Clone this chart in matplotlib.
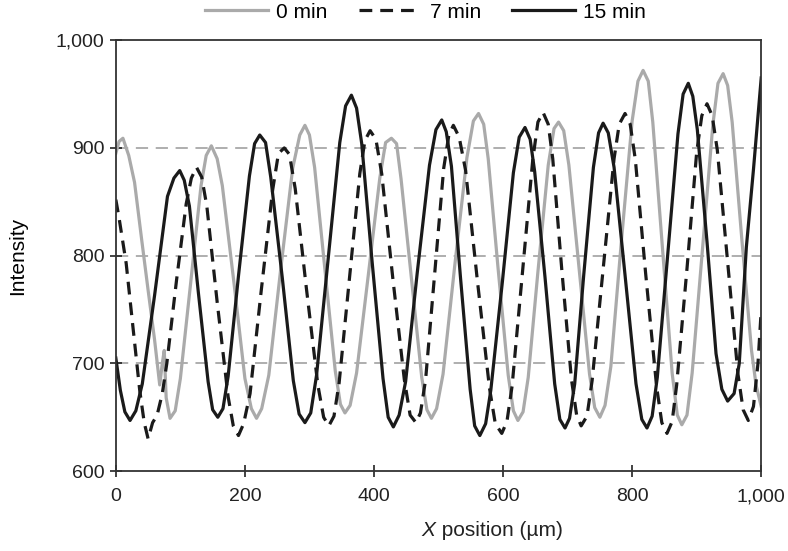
import matplotlib.pyplot as plt

plt.rcParams['font.family'] = ['Liberation Sans', 'DejaVu Sans']

# 0 min (gray)
x0 = [0, 5, 11, 20, 29, 40, 50, 60, 68, 72, 75, 78, 84, 92, 100, 116, 132, 140, 148,
      157, 165, 183, 200, 210, 218, 226, 237, 255, 274, 285, 293, 300, 308, 324, 340,
      348, 355, 363, 373, 391, 409, 418, 427, 435, 442, 458, 474, 482, 489, 497, 507,
      525, 544, 554, 562, 570, 577, 592, 608, 616, 623, 631, 639, 654, 670, 679, 686,
      694, 702, 718, 734, 742, 750, 758, 767, 783, 800, 809, 817, 825, 832, 847, 862,
      870, 877, 885, 893, 909, 925, 933, 941, 948, 955, 970, 985, 992, 1000]
y0 = [895, 906, 909, 893, 868, 815, 768, 722, 680, 700, 712, 668, 649, 656, 686, 775,
      865, 893, 902, 890, 865, 775, 686, 658, 649, 658, 689, 785, 881, 912, 921, 912,
      882, 787, 693, 662, 654, 661, 691, 781, 872, 905, 909, 904, 871, 779, 687, 657,
      649, 658, 690, 790, 891, 925, 932, 922, 890, 790, 689, 656, 647, 655, 687, 785,
      884, 918, 924, 916, 884, 787, 690, 659, 650, 661, 697, 811, 925, 962, 972, 962,
      924, 807, 691, 652, 643, 652, 691, 806, 921, 960, 969, 958, 924, 815, 712, 680,
      660]

# 7 min (dashed)
x7 = [0, 5, 16, 27, 37, 44, 50, 57, 64, 72, 79, 94, 109, 117, 125, 133, 141, 157, 174,
      182, 190, 198, 208, 225, 243, 252, 261, 269, 278, 295, 313, 322, 330, 338, 346,
      362, 378, 386, 394, 403, 412, 429, 447, 456, 465, 472, 480, 494, 508, 516, 523,
      532, 542, 560, 579, 588, 598, 606, 614, 630, 646, 654, 662, 670, 677, 691, 706,
      714, 721, 730, 738, 755, 772, 780, 789, 797, 805, 821, 838, 846, 854, 862, 869,
      885, 900, 908, 916, 924, 932, 948, 964, 972, 980, 988, 995, 1000]
y7 = [852, 835, 793, 731, 675, 645, 630, 645, 652, 672, 700, 777, 848, 872, 882, 873,
      846, 757, 669, 642, 633, 644, 672, 766, 861, 895, 900, 894, 862, 771, 680, 650,
      642, 651, 682, 779, 876, 907, 916, 908, 876, 780, 685, 652, 645, 654, 685, 783,
      881, 912, 921, 910, 879, 778, 677, 644, 635, 646, 679, 784, 889, 924, 933, 922,
      890, 787, 685, 652, 642, 651, 684, 787, 890, 922, 932, 922, 889, 783, 678, 645,
      635, 646, 680, 788, 896, 930, 941, 930, 898, 794, 690, 657, 647, 660, 700, 749]

# 15 min (black)
x15 = [0, 7, 14, 22, 31, 41, 60, 80, 90, 99, 106, 114, 128, 143, 150, 158, 166, 174,
       190, 207, 215, 223, 232, 240, 258, 275, 284, 293, 302, 311, 329, 347, 356, 365,
       373, 381, 397, 414, 422, 430, 439, 449, 467, 486, 496, 505, 512, 520, 534, 549,
       556, 564, 573, 581, 599, 616, 625, 634, 642, 649, 665, 680, 688, 696, 703, 711,
       725, 740, 748, 755, 763, 772, 789, 806, 815, 823, 831, 839, 855, 871, 879, 887,
       894, 901, 916, 930, 939, 948, 958, 966, 977, 988, 1000]
y15 = [705, 675, 655, 647, 656, 681, 763, 855, 872, 879, 870, 846, 765, 683, 657, 650,
       658, 688, 781, 874, 904, 912, 905, 873, 779, 684, 653, 645, 654, 689, 797, 905,
       939, 949, 937, 904, 795, 686, 650, 641, 652, 683, 784, 884, 917, 926, 915, 883,
       780, 676, 642, 633, 644, 675, 776, 877, 910, 919, 908, 878, 780, 681, 648, 640,
       649, 681, 782, 882, 914, 923, 914, 882, 782, 681, 648, 640, 651, 687, 800, 913,
       950, 960, 948, 917, 813, 709, 676, 665, 672, 700, 808, 880, 965]

xticks = [0, 200, 400, 600, 800, 1000]
xtick_labels = ['0', '200', '400', '600', '800', '1,000']
yticks = [600, 700, 800, 900, 1000]
ytick_labels = ['600', '700', '800', '900', '1,000']

fig = plt.figure(figsize=(7.88, 5.51), dpi=100)
ax = fig.add_axes([0.147, 0.145, 0.819, 0.782])

# dashed reference lines
for yv in [700, 800, 900]:
    ax.axhline(yv, color='#999999', lw=1.1, dashes=(8, 5), zorder=0)

ax.plot(x0, y0, color='#aaaaaa', lw=2.3, label='0 min')
ax.plot(x7, y7, color='#1a1a1a', lw=2.3, dashes=(4, 2.5), label='7 min')
ax.plot(x15, y15, color='#1a1a1a', lw=2.3, label='15 min')

ax.set_xlim(0, 1000)
ax.set_ylim(600, 1000)
ax.set_xticks(xticks)
ax.set_xticklabels(xtick_labels)
ax.set_yticks(yticks)
ax.set_yticklabels(ytick_labels)
ax.tick_params(direction='inout', length=9, width=1.2, labelsize=14, colors='#222222')
ax.tick_params(axis='x', pad=8)

for s in ax.spines.values():
    s.set_linewidth(1.3)
    s.set_color('#333333')

ax.set_ylabel('Intensity', fontsize=15)
ax.yaxis.set_label_coords(-0.138, 0.5)

# x label with italic X
fig.text(0.553, 0.038, ' position (µm)', fontsize=15, ha='left', va='center', color='#222222')
fig.text(0.553, 0.038, 'X', fontsize=15, style='italic', ha='right', va='center', color='#222222')

ax.legend(loc='center', bbox_to_anchor=(0.48, 1.065), ncol=3, frameon=False,
          fontsize=15, handlelength=3.0, columnspacing=1.5, handletextpad=0.4,
          borderaxespad=0)

plt.savefig('out.png', dpi=100)
